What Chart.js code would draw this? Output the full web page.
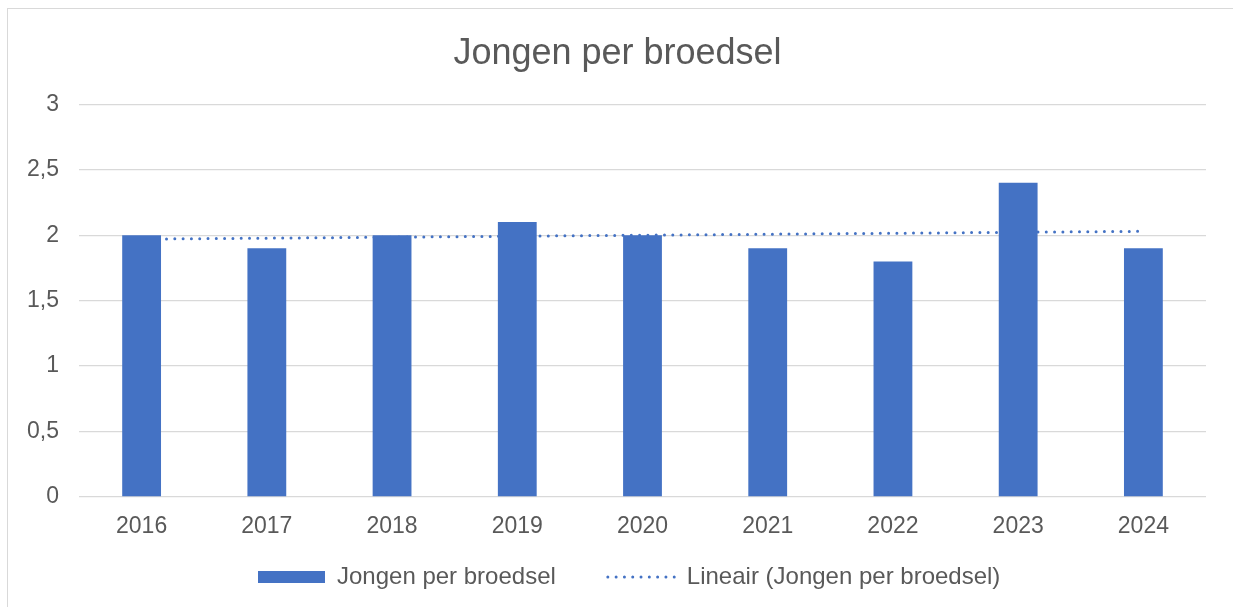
<!DOCTYPE html>
<html>
<head>
<meta charset="utf-8">
<script src="https://cdn.jsdelivr.net/npm/chart.js@4/dist/chart.umd.min.js"></script>
<style>
    html, body { margin: 0; padding: 0; background: #fff; }
    #wrap { position: relative; width: 1233px; height: 607px; overflow: hidden; }
    #frame { position: absolute; left: 7px; top: 8px; width: 1300px; height: 700px; border: 1.5px solid #d9d9d9; }
    canvas { position: absolute; left: 0; top: 0; }
</style>
</head>
<body>
<div id="wrap">
    <div id="frame"></div>
    <canvas id="chart" width="1233" height="607"></canvas>
</div>
<script>
// data
const years = ['2016', '2017', '2018', '2019', '2020', '2021', '2022', '2023', '2024'];
const youngPerBrood = [2, 1.9, 2, 2.1, 2, 1.9, 1.8, 2.4, 1.9];
const trendStart = 1.97;
const trendEnd = 2.03;
const yTickLabels = ['0', '0,5', '1', '1,5', '2', '2,5', '3'];

const seriesName = 'Jongen per broedsel';
const trendName = 'Lineair (Jongen per broedsel)';
const blue = '#4472c4';
const grey = '#595959';
const dotted = [0, 8.3];

// trend line only has its two end points, the gap is spanned
const trendData = years.map((y, i) => i === 0 ? trendStart : (i === years.length - 1 ? trendEnd : null));

// title centred on the whole frame, legend nudged to where excel had it
const placeBoxes = {
    id: 'placeBoxes',
    afterLayout(chart) {
        const t = chart.titleBlock;
        t.left = 0; t.right = 1235;
        const lg = chart.legend;
        const pad = lg.options.labels.padding;
        const x0 = (lg.left + pad + lg.right - lg.lineWidths[0]) / 2;
        const dx = 258 - x0;
        lg.left += dx; lg.right += dx;
        lg.top = 577 - pad - 12;
        lg.bottom = chart.height;
    }
};

Chart.defaults.font.family = '"Liberation Sans", Arial, sans-serif';
Chart.defaults.color = grey;

new Chart(document.getElementById('chart'), {
    type: 'bar',
    data: {
        labels: years,
        datasets: [
            { label: seriesName, data: youngPerBrood, backgroundColor: blue, borderWidth: 0,
              categoryPercentage: 1, barPercentage: 0.31, order: 0, pointStyle: 'rect' },
            { type: 'line', label: trendName, data: trendData, borderColor: blue, backgroundColor: blue,
              borderWidth: 3, borderDash: dotted, borderCapStyle: 'round', pointRadius: 0,
              spanGaps: true, fill: false, order: 1, pointStyle: 'line' }
        ]
    },
    options: {
        responsive: false, animation: false, devicePixelRatio: 1,
        layout: { padding: { left: 0, right: 27, top: 0, bottom: 27 } },
        plugins: {
            title: { display: true, text: seriesName, color: grey,
                     font: { size: 36, weight: 'normal' }, padding: { top: 32.4, bottom: 28.7 } },
            legend: { position: 'bottom', maxHeight: 40,
                      labels: { usePointStyle: true, pointStyleWidth: 67, boxHeight: 12, padding: 52,
                                color: grey, font: { size: 24 },
                                generateLabels(chart) {
                                    const items = Chart.defaults.plugins.legend.labels.generateLabels(chart);
                                    items.forEach(it => {
                                        if (it.text === trendName) {
                                            it.lineDash = dotted; it.lineCap = 'round';
                                            it.lineWidth = 3; it.strokeStyle = blue;
                                        }
                                    });
                                    return items;
                                } } },
            tooltip: { enabled: false }
        },
        scales: {
            x: {
                grid: { display: false, drawTicks: false },
                border: { display: false },
                ticks: { padding: 16, font: { size: 23 }, color: grey },
                afterFit(axis) { axis.height = 43; }
            },
            y: {
                min: 0, max: 3,
                grid: { color: '#d9d9d9', lineWidth: 1.3, drawTicks: false },
                border: { display: false },
                ticks: { stepSize: 0.5, padding: 20, font: { size: 23 }, color: grey,
                         callback: (v, i) => yTickLabels[i] },
                afterFit(axis) { axis.width = 79; }
            }
        }
    },
    plugins: [placeBoxes]
});
</script>
</body>
</html>
